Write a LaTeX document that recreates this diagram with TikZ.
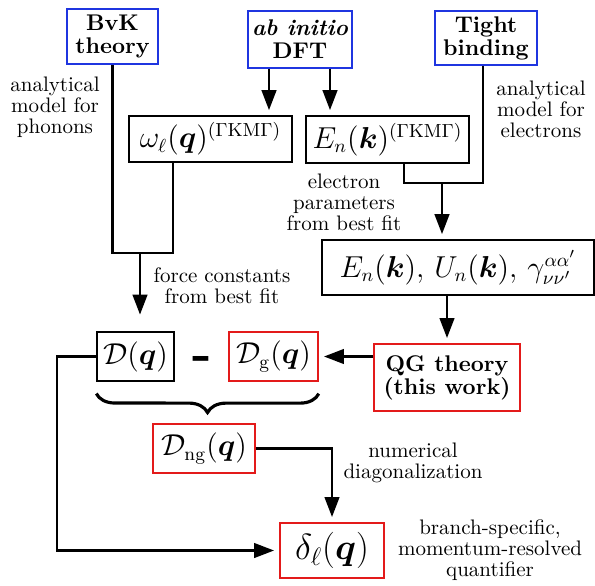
\documentclass[tikz,border=0pt]{standalone}
\usepackage{amsmath,amssymb}
\usepackage{tikz}
\usetikzlibrary{arrows.meta,calc,decorations.pathreplacing,positioning}
\usepackage{xcolor}
\definecolor{srcblue}{HTML}{1F35E0}
\definecolor{newred}{HTML}{E31A1A}
\tikzset{srcbox/.style={draw=srcblue,line width=.7pt,align=center,font=\bfseries\fontsize{10.8}{11}\selectfont,inner sep=2pt},qtybox/.style={draw=black,line width=.6pt,inner sep=2pt,font=\fontsize{13.5}{16}\selectfont},newbox/.style={draw=newred,line width=.7pt,inner sep=2pt,font=\fontsize{13.5}{16}\selectfont},link/.style={line width=1pt},arr/.style={line width=1pt,-{Triangle[length=9.5pt,width=7pt]},shorten >=2.5pt},note/.style={align=center,font=\fontsize{10}{10}\selectfont,inner sep=0pt}}

\begin{document}
\begin{tikzpicture}[x=.476pt,y=-.476pt]
\useasboundingbox (0,0) rectangle (595,585);
% inputs
\node[srcbox,minimum width=43.3pt,minimum height=26.2pt] (bvk) at (112.5,36.5) {BvK\\theory};
\node[srcbox,minimum width=49.5pt,minimum height=27.1pt] (dft) at (300,39.5) {\itshape ab initio\\DFT};
\node[srcbox,minimum width=48.6pt,minimum height=25.7pt] (tb) at (486,38) {Tight\\binding};
% reference dispersions
\node[qtybox,minimum width=77.6pt,minimum height=21.9pt] (omega) at (210.5,139) {$\omega_\ell(\boldsymbol{q})^{(\Gamma\mathrm{KM}\Gamma)}$};
\node[qtybox,minimum width=77.6pt,minimum height=22.4pt] (en) at (387.5,139.5) {$E_n(\boldsymbol{k})^{(\Gamma\mathrm{KM}\Gamma)}$};
\node[qtybox,minimum width=129.5pt,minimum height=26.2pt] (eq) at (458,267.5) {$E_n(\boldsymbol{k}),\, U_n(\boldsymbol{k}),\, \gamma^{\alpha\alpha'}_{\nu\nu'}$};
\node[newbox,font=\bfseries\fontsize{10.8}{11}\selectfont,align=center,minimum width=69.5pt,minimum height=31.9pt] (qg) at (447,377.5) {QG theory\\(this work)};
% dynamical matrices
\node[qtybox,minimum width=36.7pt,minimum height=23.3pt] (dq) at (135.5,356.5) {$\mathcal{D}(\boldsymbol{q})$};
\node[font=\Huge\bfseries,inner sep=0pt,anchor=base] (dminus) at (202,370) {-};
\node[newbox,minimum width=42.4pt,minimum height=23.3pt] (dg) at (273.5,356.5) {$\mathcal{D}_{\mathrm{g}}(\boldsymbol{q})$};
\node[newbox,minimum width=48.6pt,minimum height=23.3pt] (dng) at (204,448.5) {$\mathcal{D}_{\mathrm{ng}}(\boldsymbol{q})$};
\node[newbox,font=\LARGE,minimum width=49.5pt,minimum height=26.2pt] (delta) at (332,550.5) {$\delta_\ell(\boldsymbol{q})$};
% side notes
\node[note] (phlab) at (55,107) {analytical\\model for\\phonons};
\node[note] (ellab) at (541,109) {analytical\\model for\\electrons};
\node[note] (elfitlab) at (344,202) {electron\\parameters\\from best fit};
\node[note] (fclab) at (222,286) {force constants\\from best fit};
\node[note] (diaglab) at (413,463) {numerical\\diagonalization};
\node[note] (quantlab) at (490,550) {branch-specific,\\momentum-resolved\\quantifier};
% connectors
\coordinate (phfit) at (140,253);
\coordinate (elfit) at (442,183);
\coordinate (dftl) at ($(dft.south)+(-31,0)$);
\coordinate (dftr) at ($(dft.south)+(30,0)$);
\draw[arr] (dftl) -- (dftl |- omega.north);
\draw[arr] (dftr) -- (dftr |- en.north);
\draw[link] (bvk.south) |- (phfit) -| ($(omega.south)+(-37.5,0)$);
\draw[arr,shorten >=8pt] (phfit) -- (phfit |- dq.north);
\draw[link] ($(tb.south)+(-3,0)$) |- (elfit) -| ($(en.south)+(16.5,0)$);
\draw[arr] (elfit) -- (elfit |- eq.north);
\draw[arr] (eq.south -| qg.north) -- (qg.north);
\draw[arr] (qg.west |- dg.east) -- (dg.east);
\draw[line width=1.5pt,decorate,decoration={brace,mirror,amplitude=9pt}] ([yshift=-5.7pt]dq.south west) -- ([yshift=-5.7pt]dg.south east);
\draw[arr] (dng.east) -| (delta.north);
\draw[arr] (dq.west) -- ++(-39,0) |- (delta.west);
\end{tikzpicture}
\end{document}
